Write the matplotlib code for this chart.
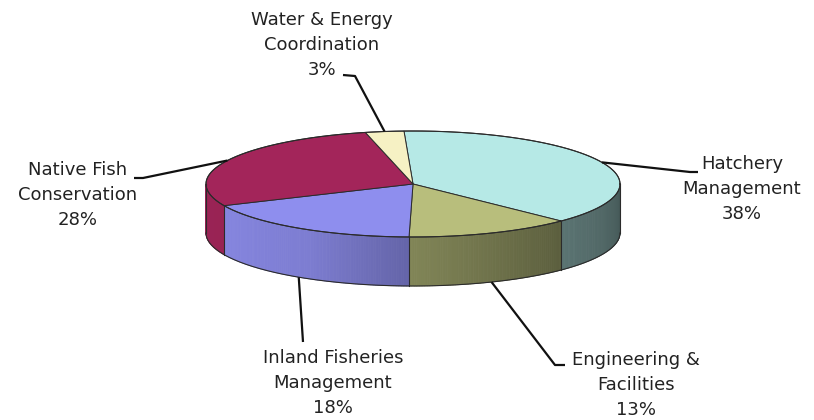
import numpy as np
import matplotlib
matplotlib.use("Agg")
import matplotlib.pyplot as plt
from matplotlib.patches import Polygon
from matplotlib.colors import to_rgb

# Budget shares by program area
labels = ["Hatchery\nManagement", "Engineering &\nFacilities",
          "Inland Fisheries\nManagement", "Native Fish\nConservation",
          "Water & Energy\nCoordination"]
shares = [38, 13, 18, 28, 3]
top_colors = ["#B6E9E6", "#B8BE7C", "#8E8EEE", "#A3255A", "#F6F1C4"]

# Pie geometry in pixel space (y grows downward)
CX, CY, RX, RY, DEPTH = 413, 184, 207, 53, 49
START = 92.5

# Label text centres and leader elbows
label_pos = [(742, 189), (636, 385), (333, 383), (78, 195), (322, 45)]
leader_pts = [[(690, 172), (698, 172)],
              [(555, 365), (565, 365)],
              [(303, 342)],
              [(143, 178), (134, 178)],
              [(355, 76), (343, 75)]]

fig = plt.figure(figsize=(8.14, 4.2), dpi=100)
ax = fig.add_axes([0, 0, 1, 1])
ax.set_xlim(0, 814)
ax.set_ylim(420, 0)
ax.axis("off")


def pt(t, dz=0.0):
    r = np.radians(t)
    return CX + RX * np.cos(r), CY - RY * np.sin(r) + dz


def shade(t):
    # side walls darken from left to right
    return np.interp(t, [-180, -150, -120, -90, -45, 0],
                     [0.95, 0.93, 0.88, 0.70, 0.50, 0.38])


total = float(sum(shares))
bounds = START - np.concatenate([[0], np.cumsum(shares)]) / total * 360.0

# side walls (front half only)
for i, c in enumerate(top_colors):
    a0, a1 = bounds[i], bounds[i + 1]
    base = np.array(to_rgb(c))
    for shift in (-360, 0, 360):
        lo, hi = max(a1 + shift, -180), min(a0 + shift, 0)
        if hi <= lo:
            continue
        ts = np.linspace(lo, hi, max(int((hi - lo) / 0.7), 2))
        for ta, tb in zip(ts[:-1], ts[1:]):
            tm = 0.5 * (ta + tb)
            col = np.clip(base * shade(tm), 0, 1)
            p1, p2 = pt(ta), pt(tb)
            p3, p4 = pt(tb, DEPTH), pt(ta, DEPTH)
            ax.add_patch(Polygon([p1, p2, p3, p4], closed=True,
                                 facecolor=col, edgecolor=col, lw=0.6,
                                 zorder=1))

# top faces
for i, c in enumerate(top_colors):
    a0, a1 = bounds[i], bounds[i + 1]
    ts = np.linspace(a0, a1, 200)
    xs, ys = pt(ts)
    verts = [(CX, CY)] + list(zip(xs, ys))
    ax.add_patch(Polygon(verts, closed=True, facecolor=c,
                         edgecolor="#2b2b2b", lw=0.7, zorder=2))

# outlines of the cylinder
edge = dict(color="#2b2b2b", lw=0.8, zorder=3)
ts = np.linspace(0, 360, 400)
ax.plot(*pt(ts), **edge)
ts = np.linspace(-180, 0, 300)
ax.plot(*pt(ts, DEPTH), **edge)
for t in [-180, 0] + [b for b in bounds]:
    tt = ((t + 180) % 360) - 180
    if -180 <= tt <= 0:
        x0, y0 = pt(tt)
        x1, y1 = pt(tt, DEPTH)
        ax.plot([x0, x1], [y0, y1], **edge)

# labels with leader lines
for i, lab in enumerate(labels):
    mid = 0.5 * (bounds[i] + bounds[i + 1])
    sm = np.sin(np.radians(mid))
    ax_, ay_ = pt(mid, DEPTH if sm < 0 else 0.0)
    pts = [(ax_, ay_)] + leader_pts[i]
    ax.plot([p[0] for p in pts], [p[1] for p in pts], color="#111111",
            lw=1.6, zorder=4, solid_capstyle="butt")
    text = f"{lab}\n{shares[i]}%"
    ax.text(label_pos[i][0], label_pos[i][1], text, ha="center",
            va="center", fontsize=13, color="#222222",
            family="DejaVu Sans", linespacing=1.5, zorder=5)

fig.savefig("out.png", dpi=100)
